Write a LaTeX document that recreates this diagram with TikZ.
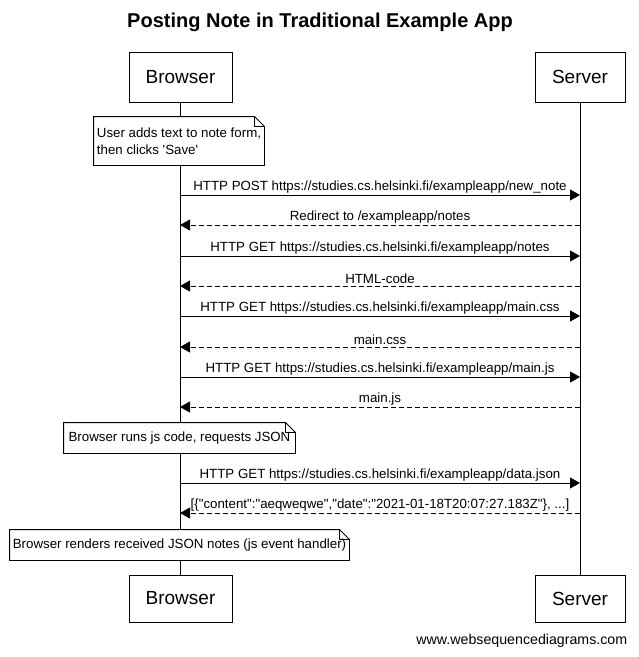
\documentclass[tikz,border=0pt]{standalone}
\usepackage{fontspec}
\setmainfont{Liberation Sans}
\usetikzlibrary{arrows.meta,positioning,calc}

% folded corner outline for a note node
\newcommand{\foldnote}[1]{%
  \draw ($(#1.north east)+(-10,0)$) -- (#1.north west) -- (#1.south west)
    -- (#1.south east) -- ($(#1.north east)+(0,10)$) -- cycle;
  \draw ($(#1.north east)+(-10,0)$) |- ($(#1.north east)+(0,10)$);
}
\newcommand{\dq}{\textquotedbl}

\begin{document}
\begin{tikzpicture}[
    x=1pt,y=-1pt,line width=0.9pt,
    actor/.style={draw=black,minimum height=50pt,inner sep=0pt,
      font=\fontsize{19}{22}\selectfont},
    note/.style={fill=white,align=left,inner xsep=2pt,inner ysep=0pt,
      font=\fontsize{13.3}{17}\selectfont},
    lbl/.style={midway,above,inner sep=1.5pt,font=\fontsize{13.3}{15}\selectfont},
    msg/.style={-{Triangle[length=10pt,width=11pt]}},
    reply/.style={msg,dash pattern=on 5pt off 3pt}
  ]
    \useasboundingbox (0,0) rectangle (639,657);
    \node[font=\bfseries\fontsize{20}{24}\selectfont] (title) at (320,22) {Posting Note in Traditional Example App};
    % participants
    \node[actor,minimum width=103pt] (btop) at (180.5,77) {Browser};
    \node[actor,minimum width=90pt] (stop) at (580,77) {Server};
    \node[actor,minimum width=103pt,minimum height=47pt] (bbot) at (180.5,598.5) {Browser};
    \node[actor,minimum width=90pt,minimum height=47pt] (sbot) at (580,598.5) {Server};
    \draw (btop) -- (bbot);
    \draw (stop) -- (sbot);
    % message rows
    \foreach \i/\y in {1/195,2/225,3/256,4/286,5/316,6/347,7/377,8/407,9/483,10/513}{
      \coordinate (b\i) at (180,\y);
      \coordinate (s\i) at (580,\y);
    }
    \node[note,minimum width=170pt,minimum height=48pt] (n1) at (179,141) {User adds text to note form,\\then clicks \textquotesingle Save\textquotesingle};
    \foldnote{n1}
    \draw[msg] (b1) -- node[lbl]{HTTP POST https://studies.cs.helsinki.fi/exampleapp/new\_note} (s1);
    \draw[reply] (s2) -- node[lbl]{Redirect to /exampleapp/notes} (b2);
    \draw[msg] (b3) -- node[lbl]{HTTP GET https://studies.cs.helsinki.fi/exampleapp/notes} (s3);
    \draw[reply] (s4) -- node[lbl]{HTML-code} (b4);
    \draw[msg] (b5) -- node[lbl]{HTTP GET https://studies.cs.helsinki.fi/exampleapp/main.css} (s5);
    \draw[reply] (s6) -- node[lbl]{main.css} (b6);
    \draw[msg] (b7) -- node[lbl]{HTTP GET https://studies.cs.helsinki.fi/exampleapp/main.js} (s7);
    \draw[reply] (s8) -- node[lbl]{main.js} (b8);
    \node[note,minimum width=231pt,minimum height=30pt] (n2) at (179.5,438) {Browser runs js code, requests JSON};
    \foldnote{n2}
    \draw[msg] (b9) -- node[lbl]{HTTP GET https://studies.cs.helsinki.fi/exampleapp/data.json} (s9);
    \draw[reply] (s10) -- node[lbl]{[\{\dq content\dq:\dq aeqweqwe\dq,\dq date\dq:\dq 2021-01-18T20:07:27.183Z\dq\}, ...]} (b10);
    \node[note,minimum width=339pt,minimum height=30pt] (n3) at (179.5,545) {Browser renders received JSON notes (js event handler)};
    \foldnote{n3}
    \node[anchor=east,font=\fontsize{14.2}{16}\selectfont] (credit) at (631,641) {www.websequencediagrams.com};
  \end{tikzpicture}
\end{document}
